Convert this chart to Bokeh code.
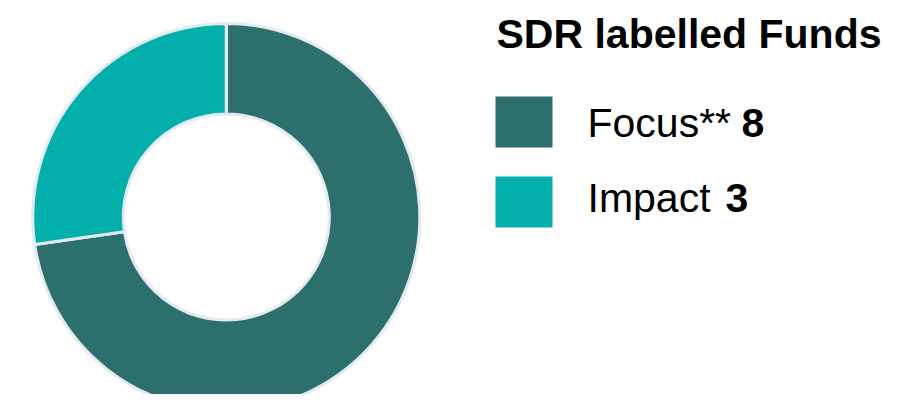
import numpy as np
from bokeh.plotting import figure
from bokeh.models import Range1d, ColumnDataSource
from bokeh.core.properties import value
from bokeh.embed import file_html
from bokeh.resources import INLINE

# ---- data ----
title_text = "SDR labelled Funds"
categories = ["Focus**", "Impact"]
counts = [8, 3]
colors = ["#2c6f6c", "#03afaa"]

# ---- layout constants (screen pixels) ----
W, H = 889, 394
cx, cy = 225.8, 216.5
R_OUT, R_IN = 193.5, 103
border_col = "#e4eaf3"
TEXT_FIX = 0.4  # empirical baseline correction (em)

p = figure(width=W, height=H, output_backend="svg", toolbar_location=None,
           x_range=Range1d(0, W), y_range=Range1d(-H, 0),
           x_axis_location=None, y_axis_location=None, min_border=0,
           outline_line_color=None, background_fill_color="white",
           border_fill_color="white")
p.grid.visible = False

# donut: start at 12 o'clock going clockwise
vals = np.array(counts, dtype=float)
frac = vals / vals.sum()
cum = np.concatenate([[0], np.cumsum(frac)])
starts = np.pi / 2 - cum[:-1] * 2 * np.pi
ends = np.pi / 2 - cum[1:] * 2 * np.pi
src = ColumnDataSource(dict(x=[cx] * len(counts), y=[-cy] * len(counts),
                            start=starts, end=ends, color=colors))
p.annular_wedge(x="x", y="y", inner_radius=R_IN, outer_radius=R_OUT,
                start_angle="start", end_angle="end", direction="clock",
                fill_color="color", line_color=border_col, line_width=3,
                source=src)

FONT = "Liberation Sans"


def text_at(x, base, txt, fs, bold=False):
    p.text(x=[x], y=[-(base - TEXT_FIX * fs)], text=[txt], text_font=value(FONT),
           text_font_size=f"{fs}px", text_font_style="bold" if bold else "normal",
           text_color="#000000", text_baseline="alphabetic", text_align="left")


# title
text_at(496, 50, title_text, 41, bold=True)

# legend items
sq_left, sq_right = 495, 552
first_top, row_h, sq_h = 96, 80, 51
lbl_x = 587
label_size = 41
first_base, base_step = 139, 75
num_offsets = [154, 138]
for i, (cat, n, col) in enumerate(zip(categories, counts, colors)):
    top = first_top + i * row_h
    p.quad(left=[sq_left], right=[sq_right], top=[-top], bottom=[-(top + sq_h)],
           fill_color=col, line_color=None)
    base = first_base + i * base_step
    text_at(lbl_x, base, cat, label_size)
    text_at(lbl_x + num_offsets[i], base, str(n), label_size, bold=True)

open("out.html", "w").write(file_html(p, INLINE))
